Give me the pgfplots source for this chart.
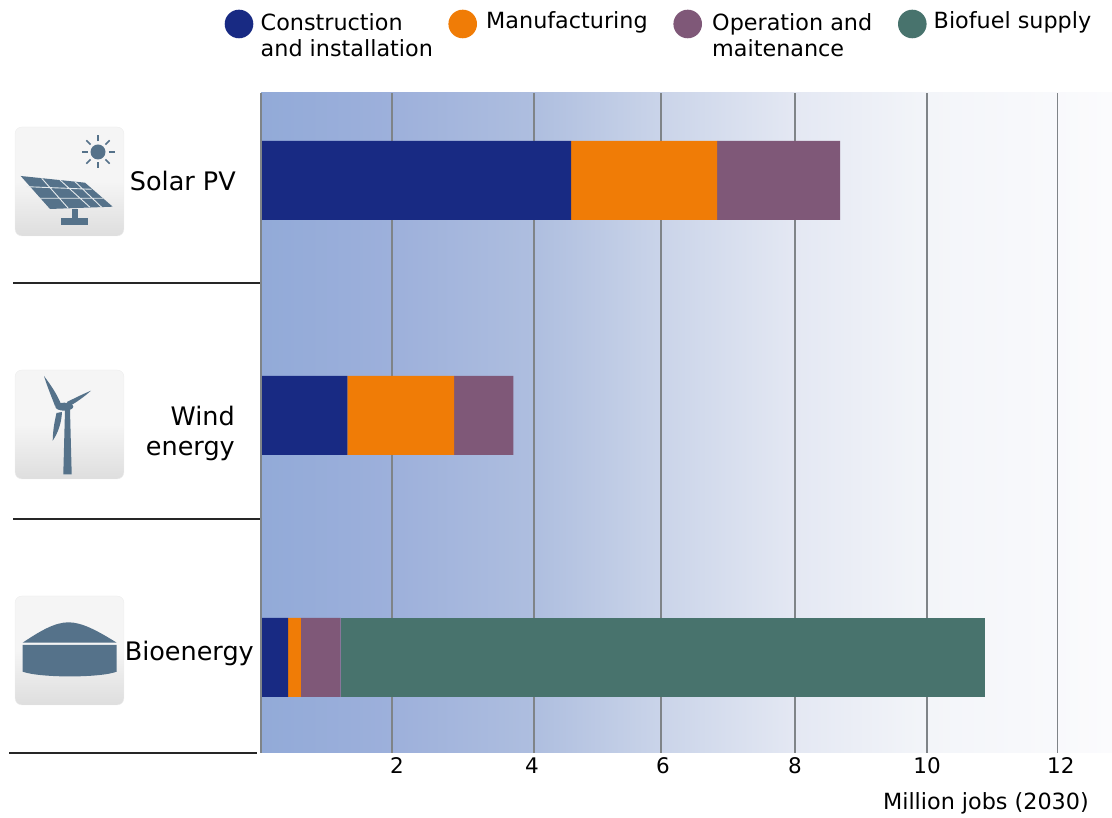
\documentclass[border=0pt]{standalone}
\usepackage{fontspec}
\setmainfont{DejaVu Sans}
\usepackage{pgfplots}
\pgfplotsset{compat=1.18}
\usetikzlibrary{calc}
\definecolor{cConstr}{HTML}{182A83}
\definecolor{cManuf}{HTML}{F07C06}
\definecolor{cOper}{HTML}{7F5878}
\definecolor{cBio}{HTML}{48736D}
\definecolor{iconblue}{HTML}{55728A}
\definecolor{gridgrey}{HTML}{7F8488}
\definecolor{fadeA}{HTML}{92AAD8}
\definecolor{fadeB}{HTML}{9DB0DB}
\definecolor{fadeC}{HTML}{AEBEDF}
\definecolor{fadeD}{HTML}{CAD4E9}
\definecolor{fadeE}{HTML}{E4E8F3}
\definecolor{fadeF}{HTML}{F3F5F9}
\definecolor{fadeG}{HTML}{FBFBFD}
% horizontal fade of the plot background
\pgfdeclarehorizontalshading{bgfade}{100bp}{
  color(0bp)=(fadeA);
  color(25bp)=(fadeA);
  color(32.7bp)=(fadeB);
  color(41bp)=(fadeC);
  color(48.5bp)=(fadeD);
  color(56.4bp)=(fadeE);
  color(64.1bp)=(fadeF);
  color(75bp)=(fadeG);
  color(100bp)=(fadeG)}
\begin{document}
\begin{tikzpicture}[x=1pt,y=1pt]
\useasboundingbox (0,0) rectangle (1112,818);
\begin{axis}[
  at={(261pt,65pt)}, anchor=south west,
  scale only axis, width=851pt, height=660pt,
  xmin=0, xmax=12.816, ymin=0, ymax=660,
  xbar stacked, bar width=79pt,
  axis line style={draw=none},
  ytick=\empty,
  xtick={1.973,4.111,6.024,8.042,10.030,12.0},
  xticklabels={\hspace*{10pt}2,4\hspace*{4pt},\hspace*{4pt}6,8,10,\hspace*{6pt}12},
  xtick style={draw=none},
  xmajorgrids, grid style={gridgrey, line width=1.3pt},
  tick label style={font=\fontsize{21.5}{24}\selectfont},
  /pgf/number format/assume math mode=true,
  xticklabel style={anchor=base, yshift=-21pt},
  clip=false,
  axis background/.style={shading=bgfade},
]
\addplot+[fill=cConstr, draw=none] coordinates {(4.67,572.5) (1.30,337.5) (0.41,95.5)};
\addplot+[fill=cManuf, draw=none] coordinates {(2.20,572.5) (1.61,337.5) (0.19,95.5)};
\addplot+[fill=cOper, draw=none] coordinates {(1.85,572.5) (0.89,337.5) (0.60,95.5)};
\addplot+[fill=cBio, draw=none] coordinates {(0,572.5) (0,337.5) (9.70,95.5)};
\end{axis}
% left edge of the plot area
\draw[gridgrey, line width=1.3pt] (261,65) -- (261,725);
% separators between technologies
\draw[black!85, line width=1.2pt] (13,535) -- (260,535);
\draw[black!85, line width=1.2pt] (13,299) -- (260,299);
\draw[black!85, line width=1.2pt] (9,65) -- (257,65);
% technology names
\def\catfont{\fontsize{25.5}{30}\selectfont}
\node[anchor=base east, inner sep=0pt, font=\catfont] at (236,627.3) {Solar PV};
\node[anchor=base east, inner sep=0pt, font=\catfont] at (235,392) {Wind};
\node[anchor=base east, inner sep=0pt, font=\catfont] at (235,362) {energy};
\node[anchor=base east, inner sep=0pt, font=\catfont] at (254,157) {Bioenergy};
% axis caption
\node[anchor=base east, inner sep=0pt, font=\fontsize{22.3}{26}\selectfont] at (1089,8.7) {Million jobs (2030)};
% legend
\def\legfont{\fontsize{22.3}{27}\selectfont}
\fill[cConstr] (239,794) circle (14.3);
\fill[cManuf] (462.7,794) circle (14.3);
\fill[cOper] (687.7,794) circle (14.3);
\fill[cBio] (912.3,794) circle (14.3);
\node[anchor=base west, inner sep=0pt, font=\legfont] at (260.5,787) {Construction};
\node[anchor=base west, inner sep=0pt, font=\legfont] at (260.5,761) {and installation};
\node[anchor=base west, inner sep=0pt, font=\legfont] at (486,789) {Manufacturing};
\node[anchor=base west, inner sep=0pt, font=\legfont] at (712,787) {Operation and};
\node[anchor=base west, inner sep=0pt, font=\legfont] at (712,761) {maitenance};
\node[anchor=base west, inner sep=0pt, font=\legfont] at (933.5,789) {Biofuel supply};
% icon tiles
\foreach \yy in {582,339,113}{
  \shade[rounded corners=7pt, top color=white!96!black, bottom color=black!13, middle color=white!96!black, draw=black!7]
    (15,\yy) rectangle (124,\yy+109);
}
% solar panel icon
\begin{scope}[iconblue]
  \fill (20.7,642) -- (85,635.3) -- (112.7,611.3) -- (50,609) -- cycle;
  \draw[white!85!iconblue, line width=0.9pt]
    (41.7,639.7) -- (68.3,609.7) (60,638) -- (90,610.7) (75,636.3) -- (101.7,610.7)
    (26.7,631.3) -- (91.7,628.7) (38.3,619.7) -- (103.3,619.7);
  \fill (72,609) rectangle (78,600);
  \fill (61,600) rectangle (88,593);
  \fill (98,666) circle (7.5);
  \foreach \a in {0,45,...,315}{
    \draw[line width=1.6pt] ($(98,666)+(\a:10.5)$) -- ($(98,666)+(\a:16.5)$);
  }
\end{scope}
% wind turbine icon
\begin{scope}[iconblue]
  \fill (65,408) -- (70,408) -- (71.7,343.7) -- (63.3,343.7) -- cycle;
  \fill (64.3,411.3) ellipse (9 and 4);
  \fill (44,442) .. controls (47,432) and (52,420) .. (55,412) -- (61,414) .. controls (57,424) and (50,434) .. (44,442) -- cycle;
  \fill (91,427.3) .. controls (83,424) and (75,420) .. (67,416) -- (69,411.5) .. controls (76,415.5) and (84,421) .. (91,427.3) -- cycle;
  \fill (52.7,377.3) .. controls (53,390) and (55,398) .. (56.5,405) -- (62,406) .. controls (61.5,395) and (58,385) .. (52.7,377.3) -- cycle;
\end{scope}
% digester icon
\begin{scope}[iconblue]
  \fill (22.7,175.3) .. controls (40,187) and (55,195.7) .. (68.5,195.7) .. controls (82,195.7) and (98,187) .. (116.7,175.3) -- cycle;
  \fill (22.7,173) -- (116.7,173) -- (116.7,146.3) .. controls (100,140) and (40,140) .. (22.7,146.3) -- cycle;
\end{scope}
\end{tikzpicture}
\end{document}
